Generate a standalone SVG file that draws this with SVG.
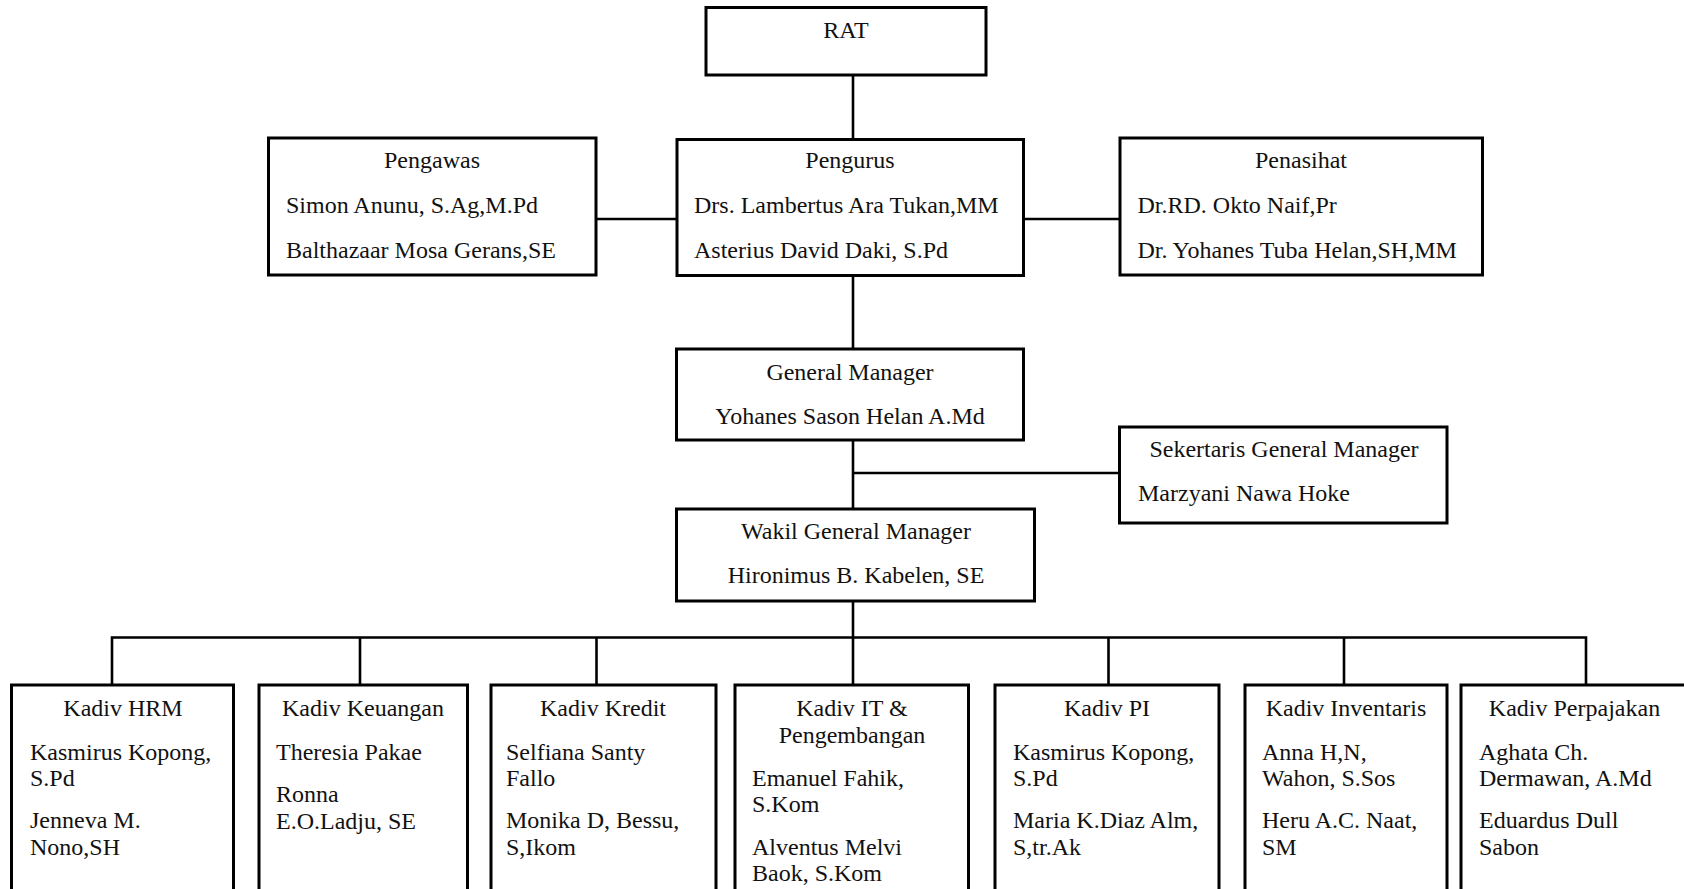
<svg xmlns="http://www.w3.org/2000/svg" width="1684" height="889" viewBox="0 0 1684 889">
<style>
.box{fill:#fff;stroke:#000;stroke-width:3}
.ln{fill:none;stroke:#000;stroke-width:2.6}
text{font-family:"Liberation Serif","Times New Roman",serif;font-size:24px;fill:#111}
.c{text-anchor:middle}
</style>
<rect width="1684" height="889" fill="#fff"/>
<g id="connectors">
<path class="ln" d="M853 75V139.5"/>
<path class="ln" d="M596 219H677"/>
<path class="ln" d="M1023.5 219H1120"/>
<path class="ln" d="M853 275.5V349"/>
<path class="ln" d="M853 440V509"/>
<path class="ln" d="M853 473H1119.5"/>
<path class="ln" d="M853 601V637.5"/>
<path class="ln" d="M112 685V637.5H1586V685"/>
<path class="ln" d="M360 637.5V685"/>
<path class="ln" d="M596.5 637.5V685"/>
<path class="ln" d="M853 637.5V685"/>
<path class="ln" d="M1108.5 637.5V685"/>
<path class="ln" d="M1344 637.5V685"/>
</g>
<g id="rat">
<rect class="box" x="706" y="7.5" width="280" height="67.5"/>
<text class="c" x="846" y="38">RAT</text>
</g>
<g id="pengawas">
<rect class="box" x="268.5" y="138" width="327.5" height="137"/>
<text class="c" x="432" y="168">Pengawas</text>
<text x="286" y="213">Simon Anunu, S.Ag,M.Pd</text>
<text x="286" y="258">Balthazaar Mosa Gerans,SE</text>
</g>
<g id="pengurus">
<rect class="box" x="677" y="139.5" width="346.5" height="136"/>
<text class="c" x="850" y="168">Pengurus</text>
<text x="694" y="213">Drs. Lambertus Ara Tukan,MM</text>
<text x="694" y="258">Asterius David Daki, S.Pd</text>
</g>
<g id="penasihat">
<rect class="box" x="1120" y="138" width="362.5" height="137"/>
<text class="c" x="1301" y="168">Penasihat</text>
<text x="1137.5" y="213">Dr.RD. Okto Naif,Pr</text>
<text x="1137.5" y="258">Dr. Yohanes Tuba Helan,SH,MM</text>
</g>
<g id="general-manager">
<rect class="box" x="676.5" y="349" width="347" height="91"/>
<text class="c" x="850" y="380">General Manager</text>
<text class="c" x="850" y="424">Yohanes Sason Helan A.Md</text>
</g>
<g id="sekertaris">
<rect class="box" x="1119.5" y="427" width="327.5" height="96"/>
<text class="c" x="1284" y="457">Sekertaris General Manager</text>
<text x="1138" y="501">Marzyani Nawa Hoke</text>
</g>
<g id="wakil-gm">
<rect class="box" x="676.5" y="509" width="358" height="92"/>
<text class="c" x="856" y="539">Wakil General Manager</text>
<text class="c" x="856" y="583">Hironimus B. Kabelen, SE</text>
</g>
<g id="kadiv-hrm">
<rect class="box" x="11.5" y="685" width="222" height="220"/>
<text class="c" x="123" y="716">Kadiv HRM</text>
<text x="30" y="760">Kasmirus Kopong,</text>
<text x="30" y="786">S.Pd</text>
<text x="30" y="828">Jenneva M.</text>
<text x="30" y="855">Nono,SH</text>
</g>
<g id="kadiv-keuangan">
<rect class="box" x="259" y="685" width="208.5" height="220"/>
<text class="c" x="363" y="716">Kadiv Keuangan</text>
<text x="276" y="760">Theresia Pakae</text>
<text x="276" y="802">Ronna</text>
<text x="276" y="829">E.O.Ladju, SE</text>
</g>
<g id="kadiv-kredit">
<rect class="box" x="491" y="685" width="225" height="220"/>
<text class="c" x="603" y="716">Kadiv Kredit</text>
<text x="506" y="760">Selfiana Santy</text>
<text x="506" y="786">Fallo</text>
<text x="506" y="828">Monika D, Bessu,</text>
<text x="506" y="855">S,Ikom</text>
</g>
<g id="kadiv-it">
<rect class="box" x="735" y="685" width="233.5" height="220"/>
<text class="c" x="852" y="716">Kadiv IT &amp;</text>
<text class="c" x="852" y="743">Pengembangan</text>
<text x="752" y="786">Emanuel Fahik,</text>
<text x="752" y="812">S.Kom</text>
<text x="752" y="855">Alventus Melvi</text>
<text x="752" y="881">Baok, S.Kom</text>
</g>
<g id="kadiv-pi">
<rect class="box" x="995" y="685" width="224" height="220"/>
<text class="c" x="1107" y="716">Kadiv PI</text>
<text x="1013" y="760">Kasmirus Kopong,</text>
<text x="1013" y="786">S.Pd</text>
<text x="1013" y="828">Maria K.Diaz Alm,</text>
<text x="1013" y="855">S,tr.Ak</text>
</g>
<g id="kadiv-inventaris">
<rect class="box" x="1245" y="685" width="202" height="220"/>
<text class="c" x="1346" y="716">Kadiv Inventaris</text>
<text x="1262" y="760">Anna H,N,</text>
<text x="1262" y="786">Wahon, S.Sos</text>
<text x="1262" y="828">Heru A.C. Naat,</text>
<text x="1262" y="855">SM</text>
</g>
<g id="kadiv-perpajakan">
<rect class="box" x="1461" y="685" width="227" height="220"/>
<text class="c" x="1574.5" y="716">Kadiv Perpajakan</text>
<text x="1479" y="760">Aghata Ch.</text>
<text x="1479" y="786">Dermawan, A.Md</text>
<text x="1479" y="828">Eduardus Dull</text>
<text x="1479" y="855">Sabon</text>
</g>
</svg>
